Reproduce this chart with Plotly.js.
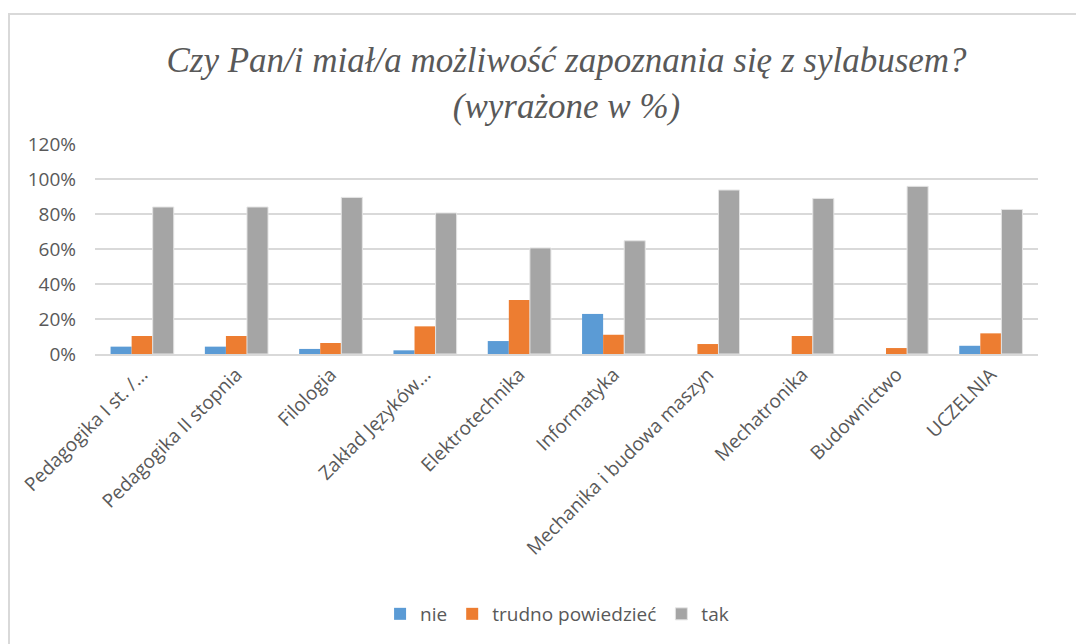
<!DOCTYPE html>
<html>
<head>
<meta charset="utf-8">
<script src="https://cdn.plot.ly/plotly-3.0.1.min.js"></script>
<style>
  body { margin: 0; background: #fff; }
  #chart { width: 1076px; height: 644px; }
  #frame { position: absolute; left: 8px; top: 13px; width: 1100px; height: 700px;
           border-left: 2px solid #d9d9d9; border-top: 2px solid #d9d9d9; pointer-events: none; }
</style>
</head>
<body>
<div id="chart"></div>
<div id="frame"></div>
<script>
// kierunki / categories
var kierunki = ["Pedagogika I st. /...", "Pedagogika II stopnia", "Filologia", "Zakład Języków...",
  "Elektrotechnika", "Informatyka", "Mechanika i budowa maszyn", "Mechatronika",
  "Budownictwo", "UCZELNIA"];

// answers, as fractions
var nie = [0.042, 0.042, 0.029, 0.021, 0.074, 0.229, 0, 0, 0, 0.047];
var trudno = [0.103, 0.103, 0.063, 0.158, 0.309, 0.11, 0.057, 0.103, 0.034, 0.118];
var tak = [0.84, 0.84, 0.895, 0.806, 0.606, 0.647, 0.937, 0.889, 0.958, 0.826];

var txt = "#595959";

var data = [
  { x: kierunki, y: nie, name: "nie", type: "bar", marker: {color: "#5b9bd5"} },
  { x: kierunki, y: trudno, name: "trudno powiedzieć", type: "bar", marker: {color: "#ed7d31"} },
  { x: kierunki, y: tak, name: "tak", type: "bar",
    marker: {color: "#a5a5a5", line: {color: "#e4e4e4", width: 1}} }
];

var layout = {
  width: 1076, height: 644,
  margin: {l: 95, r: 38, t: 144, b: 290},
  paper_bgcolor: "#fff", plot_bgcolor: "#fff",
  font: {family: "Open Sans, sans-serif", size: 19, color: txt},
  title: {
    text: "Czy Pan/i miał/a możliwość zapoznania się z sylabusem?<br>(wyrażone w %)",
    font: {family: "Liberation Serif, serif", size: 35, color: txt, style: "italic", lineposition: "none"},
    x: 0.5, xref: "paper", y: 1 - 72 / 644, yref: "container", yanchor: "middle"
  },
  barmode: "group",
  bargap: 0.33,
  bargroupgap: 0,
  showlegend: true,
  legend: {orientation: "h", x: 0.49, xanchor: "center", y: -1.238, yanchor: "middle",
    font: {size: 19, color: txt}, itemwidth: 30, traceorder: "normal"},
  xaxis: {tickangle: -45, automargin: false, showgrid: false, zeroline: false,
    showline: true, linecolor: "#d9d9d9", linewidth: 2, ticks: "",
    tickfont: {size: 19, color: txt}},
  yaxis: {range: [0, 1.2], tickvals: [0, 0.2, 0.4, 0.6, 0.8, 1.0, 1.2], tickformat: ".0%",
    automargin: false, showgrid: true, gridcolor: "#d9d9d9", gridwidth: 2, zeroline: false,
    showline: false, ticks: "", ticklabelstandoff: 18, tickfont: {size: 19, color: txt}}
};

Plotly.newPlot("chart", data, layout, {displayModeBar: false});
</script>
</body>
</html>
